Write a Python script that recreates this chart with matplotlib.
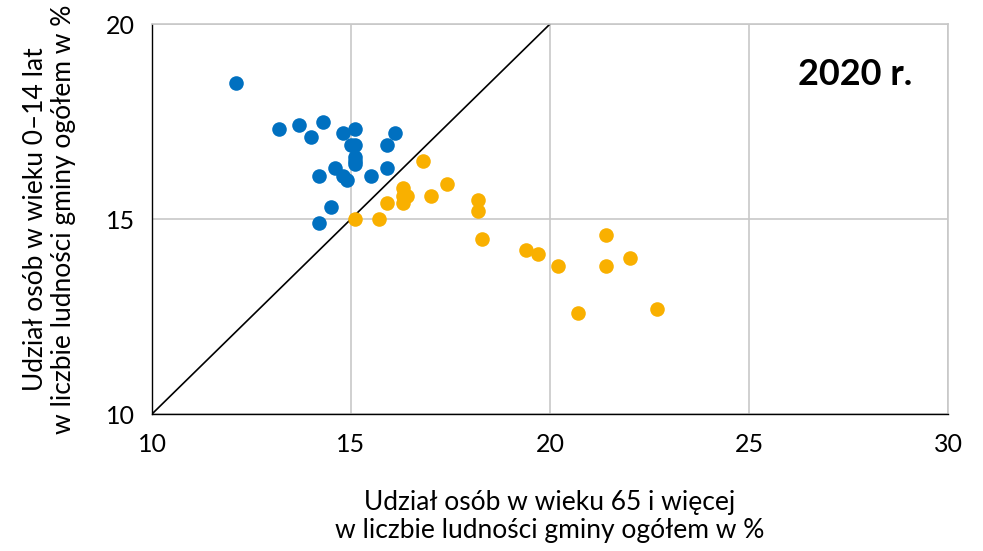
import matplotlib.pyplot as plt
import numpy as np

plt.rcParams['font.family'] = ['Lato', 'DejaVu Sans']

# 65+ share (x) and 0-14 share (y), %
blue_x = [12.1, 13.2, 13.7, 14.0, 14.3, 14.8, 15.1, 15.0, 15.1, 15.1, 15.1, 15.1,
          16.1, 15.9, 15.9, 14.6, 14.2, 14.8, 14.9, 15.5, 14.5, 14.2]
blue_y = [18.5, 17.3, 17.4, 17.1, 17.5, 17.2, 17.3, 16.9, 16.9, 16.6, 16.5, 16.4,
          17.2, 16.9, 16.3, 16.3, 16.1, 16.1, 16.0, 16.1, 15.3, 14.9]

orange_x = [16.8, 16.3, 16.3, 16.4, 16.3, 15.9, 17.0, 17.4, 18.2, 18.2, 15.1, 15.7,
            18.3, 19.4, 19.7, 20.2, 21.4, 21.4, 22.0, 20.7, 22.7]
orange_y = [16.5, 15.8, 15.6, 15.6, 15.4, 15.4, 15.6, 15.9, 15.5, 15.2, 15.0, 15.0,
            14.5, 14.2, 14.1, 13.8, 14.6, 13.8, 14.0, 12.6, 12.7]

x_ticks = [10, 15, 20, 25, 30]
y_ticks = [10, 15, 20]

fig = plt.figure(figsize=(9.83, 5.51), dpi=100)
ax = fig.add_axes([0.1546, 0.2486, 0.8098, 0.7078])

ax.set_xlim(10, 30)
ax.set_ylim(10, 20)
ax.set_xticks(x_ticks)
ax.set_yticks(y_ticks)
ax.grid(True, color='#c8c8c8', linewidth=1.2)
ax.set_axisbelow(True)

for side in ['top', 'right']:
    ax.spines[side].set_color('#c8c8c8')
    ax.spines[side].set_linewidth(1.2)
for side in ['left', 'bottom']:
    ax.spines[side].set_color('black')
    ax.spines[side].set_linewidth(1.0)

ax.plot([10, 20], [10, 20], color='black', linewidth=1.2, zorder=2)

ax.scatter(blue_x, blue_y, s=110, color='#0070C0', linewidths=0, zorder=3)
ax.scatter(orange_x, orange_y, s=110, color='#F9B000', linewidths=0, zorder=3)

ax.tick_params(axis='x', length=0, labelsize=18, pad=14)
ax.tick_params(axis='y', length=0, labelsize=18, pad=12)

ax.set_xlabel('Udział osób w wieku 65 i więcej\nw liczbie ludności gminy ogółem w %',
              fontsize=19, labelpad=24, linespacing=1.15)
ax.set_ylabel('Udział osób w wieku 0–14 lat\nw liczbie ludności gminy ogółem w %',
              fontsize=19, labelpad=22, linespacing=1.15)

ax.text(0.955, 0.87, '2020 r.', transform=ax.transAxes, ha='right', va='center',
        fontsize=26, fontweight='bold')

fig.savefig('out.png', dpi=100)
